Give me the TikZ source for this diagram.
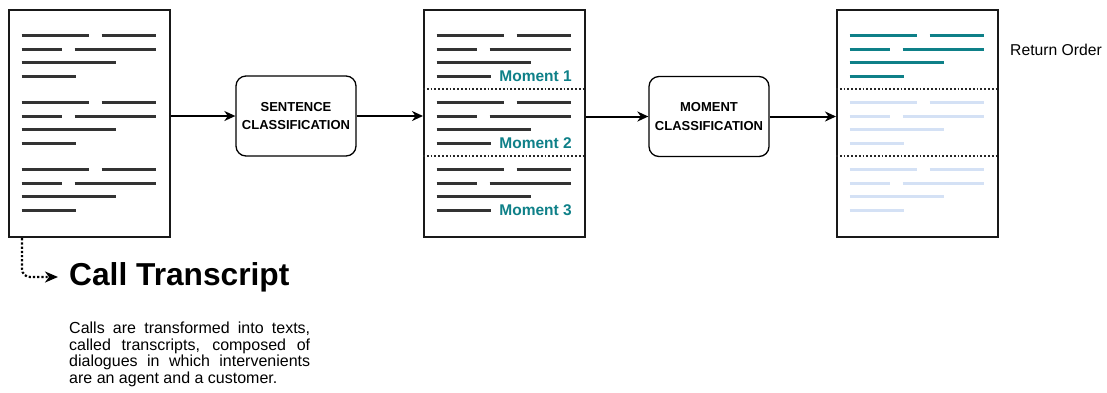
\documentclass[tikz,border=0pt]{standalone}
\usepackage{fontspec}
\setmainfont{Liberation Sans}
\usetikzlibrary{arrows.meta}

\definecolor{inkline}{HTML}{333333}
\definecolor{tealtxt}{HTML}{0E8088}
\definecolor{paleblue}{HTML}{D4E1F5}

\tikzset{
  doc/.style={draw=black!90, line width=2.2pt, minimum width=161pt,
    minimum height=227pt, inner sep=0pt, anchor=north west},
  txtline/.style={line width=3pt},
  sep/.style={dotted, line width=1.8pt, black!85},
  procbox/.style={draw, line width=1.3pt, rounded corners=10pt,
    minimum width=120pt, minimum height=80pt, align=center,
    font=\fontsize{13}{18.5}\selectfont\bfseries},
  flow/.style={line width=2pt, -{Stealth[length=11pt,width=10pt,inset=3.5pt]}},
  momlabel/.style={font=\fontsize{15.5}{18}\selectfont\bfseries,
    text=tealtxt, anchor=base east, inner sep=0pt},
}

% four-row block of text strokes inside a document node;
% #1 = document node, #2 = list of vertical offset/colour pairs
\newcommand\textstrokes[2]{%
  \begin{scope}[shift={(#1.north west)}]
    \foreach \g/\c in {#2}{
      \draw[txtline,\c]
        (13.5,\g+26) -- (80.5,\g+26)  (93.5,\g+26) -- (147.5,\g+26)
        (13.5,\g+40) -- (53.5,\g+40)  (66.5,\g+40) -- (147.5,\g+40)
        (13.5,\g+53) -- (107.5,\g+53)
        (13.5,\g+67) -- (67.5,\g+67);
    }
  \end{scope}}

\begin{document}
\begin{tikzpicture}[x=1pt, y=-1pt]
  \useasboundingbox (0,0) rectangle (1107,392);

  % documents
  \node[doc] (d1) at (8,9) {};
  \node[doc] (d2) at (423,9) {};
  \node[doc] (d3) at (836,9) {};

  \textstrokes{d1}{0/inkline,67/inkline,134/inkline}
  \textstrokes{d2}{0/inkline,67/inkline,134/inkline}
  \textstrokes{d3}{0/tealtxt,67/paleblue,134/paleblue}

  % moment separators
  \foreach \d in {d2,d3}{
    \draw[sep] ([yshift=-80pt]\d.north west) -- ([yshift=-80pt]\d.north east);
    \draw[sep] ([yshift=-147pt]\d.north west) -- ([yshift=-147pt]\d.north east);
  }

  % moment labels
  \node[momlabel] (m1) at ([xshift=149pt,yshift=-72.5pt]d2.north west) {Moment 1};
  \node[momlabel] (m2) at ([xshift=149pt,yshift=-139.5pt]d2.north west) {Moment 2};
  \node[momlabel] (m3) at ([xshift=149pt,yshift=-206pt]d2.north west) {Moment 3};

  % classification steps
  \node[procbox] (sbox) at (296,116) {SENTENCE\\CLASSIFICATION};
  \node[procbox] (mbox) at (709,116.5) {MOMENT\\CLASSIFICATION};

  % pipeline arrows
  \draw[flow] (d1.east |- sbox.west) -- (sbox.west);
  \draw[flow] (sbox.east) -- (d2.west |- sbox.east);
  \draw[flow] (d2.east |- mbox.west) -- (mbox.west);
  \draw[flow] (mbox.east) -- (d3.west |- mbox.east);

  % output label
  \node[anchor=base west, inner sep=0pt, font=\fontsize{15.7}{18}\selectfont]
    (ret) at (1010,55) {Return Order};

  % legend for the transcript
  \node[anchor=base west, inner sep=0pt, font=\fontsize{31.7}{36}\selectfont\bfseries]
    (cttitle) at (69,285) {Call Transcript};
  \coordinate (cttip) at (58,277);
  \draw[dotted, line width=2.2pt, rounded corners=8pt,
        -{Stealth[length=13pt,width=11pt,inset=4pt]}]
    ([xshift=14pt]d1.south west) |- (cttip);

  \node[anchor=north west, inner sep=0pt, text width=241pt, align=justify,
        font=\fontsize{16}{16.8}\selectfont] (ctdesc) at (69,321.5)
    {\hyphenpenalty=10000 Calls are transformed into texts,\linebreak
     called transcripts, composed of\linebreak
     dialogues in which intervenients\linebreak
     are an agent and a customer.};
\end{tikzpicture}
\end{document}
